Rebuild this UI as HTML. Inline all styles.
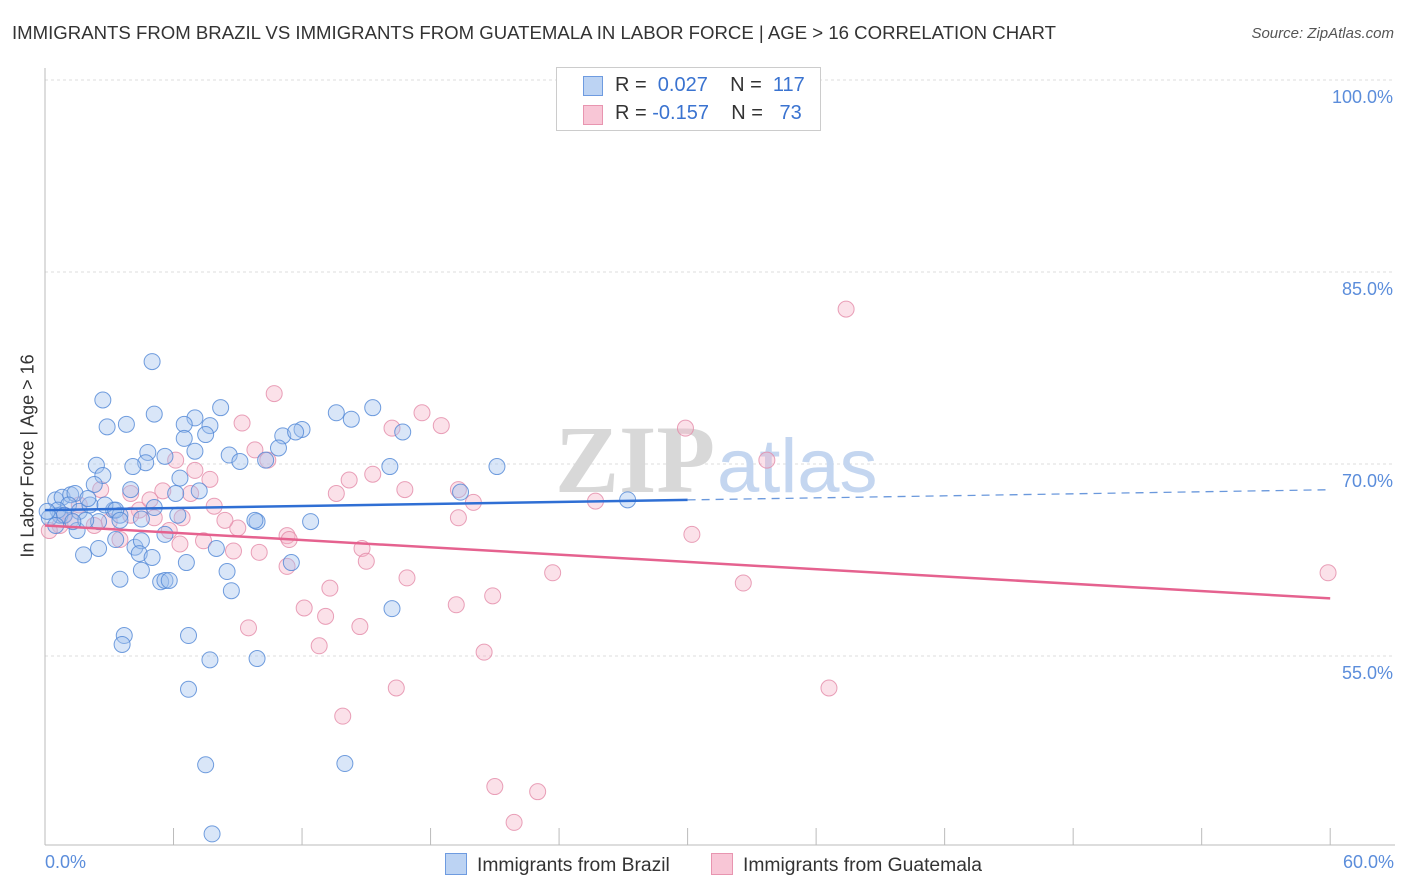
<!DOCTYPE html>
<html><head><meta charset="utf-8"><style>
body{margin:0;background:#fff;font-family:"Liberation Sans",sans-serif;}
#wrap{position:relative;width:1406px;height:892px;overflow:hidden;}
.t{position:absolute;white-space:nowrap;}
</style></head><body>
<div id="wrap">
<div class="t" style="left:12px;top:22px;font-size:18.6px;color:#333;">IMMIGRANTS FROM BRAZIL VS IMMIGRANTS FROM GUATEMALA IN LABOR FORCE | AGE &gt; 16 CORRELATION CHART</div>
<div class="t" style="right:12px;top:25px;font-size:15px;color:#555;font-style:italic;">Source: ZipAtlas.com</div>
<svg id="plot" width="1406" height="892" style="position:absolute;left:0;top:0"></svg>
</div>
<script>
const yTicks=[100,85,70,55];
const yTickLabels=["100.0%","85.0%","70.0%","55.0%"];
const xTicks=[0,6,12,18,24,30,36,42,48,54,60];
const brazilX=[5.0,2.7,5.1,8.2,15.3,13.6,14.3,7.0,6.5,3.8,2.9,7.7,7.5,6.5,12.0,11.1,11.7,16.7,4.8,5.6,7.0,10.9,8.6,9.1,10.3,4.7,2.4,4.1,2.7,6.3,16.1,21.1,2.3,4.0,7.2,6.1,19.4,27.2,5.1,3.2,6.2,9.9,12.4,9.8,4.5,3.5,0.7,2.5,4.2,5.6,4.5,3.3,1.5,2.5,1.8,4.4,5.0,4.5,6.6,8.0,8.5,3.5,5.4,5.6,5.8,8.7,11.5,16.2,3.7,3.6,6.7,7.7,9.9,6.7,7.5,14.0,7.8,0.5,0.8,1.2,1.4,1.1,0.6,0.9,1.6,1.9,0.2,2.1,1.3,2.8,3.3,3.5,0.1,0.5,2.0];
const brazilY=[78.0,75.0,73.9,74.4,74.4,74.0,73.5,73.6,73.1,73.1,72.9,73.0,72.3,72.0,72.7,72.2,72.5,72.5,70.9,70.6,71.0,71.25,70.7,70.2,70.3,70.1,69.9,69.8,69.1,68.9,69.8,69.8,68.4,68.0,67.9,67.7,67.8,67.2,66.6,66.4,66.0,65.5,65.5,65.6,65.7,66.0,66.0,65.5,63.5,64.5,64.0,64.1,64.8,63.4,62.9,63.0,62.7,61.7,62.3,63.4,61.6,61.0,60.8,60.9,60.9,60.1,62.3,58.7,56.6,55.9,56.6,54.7,54.8,52.4,46.5,46.6,41.1,67.2,67.4,67.6,67.7,66.8,66.4,66.0,66.3,65.6,65.8,66.8,65.5,66.8,66.4,65.6,66.3,65.2,67.3];
const guatX=[37.4,10.7,17.6,18.5,9.2,16.2,29.9,33.7,10.4,15.3,7.7,14.2,16.8,13.6,6.8,5.5,4.0,19.3,20.0,25.7,7.9,5.1,6.4,3.0,19.3,9.0,7.4,8.8,11.3,10.0,14.8,15.0,30.2,11.3,23.7,16.9,32.6,13.3,12.1,19.2,20.9,13.1,59.9,9.5,14.7,12.8,20.5,16.4,36.6,13.9,21.0,23.0,21.9,6.3,3.5,2.3,4.4,1.2,0.7,0.2,1.6,4.9,5.8,0.9,2.6,4.0,8.4,7.0,9.8,6.1,11.4];
const guatY=[82.1,75.5,74.0,73.0,73.2,72.8,72.8,70.3,70.3,69.2,68.8,68.75,68.0,67.7,67.7,67.9,67.7,68.0,67.0,67.1,66.7,65.8,65.8,65.5,65.8,65.0,64.0,63.2,64.4,63.1,63.4,62.4,64.5,62.0,61.5,61.1,60.7,60.3,58.75,59.0,59.7,58.1,61.5,57.2,57.3,55.8,55.3,52.5,52.5,50.3,44.8,44.4,42.0,63.75,64.1,65.2,66.4,65.6,65.2,64.8,66.8,67.2,64.8,66.0,68.0,66.0,65.6,69.5,71.1,70.3,64.1];
const trendBrazil=[66.4,0.0265];
const trendGuat=[65.2,-0.095];
const NS="http://www.w3.org/2000/svg";
const svg=document.getElementById('plot');
const X=v=>45+v*21.42, Y=v=>80+(100-v)*12.8;
function mk(t,a){const e=document.createElementNS(NS,t);for(const k in a)e.setAttribute(k,a[k]);svg.appendChild(e);return e;}
yTicks.forEach((v,i)=>{
 const g=mk('line',{x1:45,x2:1395,y1:Y(v),y2:Y(v),stroke:'#ddd','stroke-dasharray':'3,3'});
 
 
 const t=mk('text',{x:1393,y:Y(v)+23,'text-anchor':'end','font-size':18,fill:'#5b8ddb'});
 t.textContent=yTickLabels[i];
 
 
});
const ax=mk('line',{x1:45,x2:45,y1:68,y2:845,stroke:'#bbb'});


const bx=mk('line',{x1:45,x2:1395,y1:845,y2:845,stroke:'#bbb'});


xTicks.forEach(v=>{
 const l=mk('line',{x1:X(v),x2:X(v),y1:828,y2:845,stroke:'#bbb'});
 
 
});
const w1=mk('text',{x:555,y:492,'font-size':96,fill:'#d8d8d8','font-family':'Liberation Serif,serif','font-weight':'bold'});
w1.textContent='ZIP';


const w2=mk('text',{x:717,y:492,'font-size':76,fill:'#c4d6f0'});
w2.textContent='atlas';


function pts(xs,ys,fill,stroke,name){xs.forEach((x,i)=>{
 const c=mk('circle',{cx:X(x),cy:Y(ys[i]),r:8,fill:fill,'fill-opacity':0.4,stroke:stroke,'stroke-width':1,'stroke-opacity':0.8});
 
 
});}
pts(guatX,guatY,'#f4b3c7','#e48aa8','guatemala-point');
pts(brazilX,brazilY,'#9fc0ee','#4f86d6','brazil-point');
const b1=mk('line',{x1:X(0),y1:Y(trendBrazil[0]),x2:X(30),y2:Y(trendBrazil[0]+30*trendBrazil[1]),stroke:'#2f6fd4','stroke-width':2.5});


const b2=mk('line',{x1:X(30),y1:Y(trendBrazil[0]+30*trendBrazil[1]),x2:X(60),y2:Y(trendBrazil[0]+60*trendBrazil[1]),stroke:'#6a98dc','stroke-width':1.3,'stroke-dasharray':'8,6'});


const p1=mk('line',{x1:X(0),y1:Y(trendGuat[0]),x2:X(60),y2:Y(trendGuat[0]+60*trendGuat[1]),stroke:'#e5628f','stroke-width':2.5});


</script>
<div class="t" style="left:556px;top:67px;width:263px;height:62px;border:1px solid #ccc;background:#fff;font-size:20px;">
 <div style="position:absolute;left:26px;top:8px;width:18px;height:18px;background:#bcd3f3;border:1px solid #6e9be0;"></div>
 <div style="position:absolute;left:58px;top:6px;color:#333">R = <span style="color:#3a73d0">&nbsp;0.027</span>&nbsp;&nbsp;&nbsp; N = <span style="color:#3a73d0">&nbsp;117</span></div>
 <div style="position:absolute;left:26px;top:37px;width:18px;height:18px;background:#f8c6d6;border:1px solid #e895b0;"></div>
 <div style="position:absolute;left:58px;top:34px;color:#333">R = <span style="color:#3a73d0">-0.157</span>&nbsp;&nbsp;&nbsp; N = <span style="color:#3a73d0">&nbsp;&nbsp;73</span></div>
</div>
<div class="t" style="left:45px;top:852px;font-size:18px;color:#5b8ddb">0.0%</div>
<div class="t" style="right:12px;top:852px;font-size:18px;color:#5b8ddb">60.0%</div>
<div class="t" style="left:445px;top:853px;font-size:19.3px;color:#333"><span style="display:inline-block;width:20px;height:20px;background:#bcd3f3;border:1px solid #6e9be0;vertical-align:-4px;margin-right:10px"></span>Immigrants from Brazil</div>
<div class="t" style="left:711px;top:853px;font-size:19.3px;color:#333"><span style="display:inline-block;width:20px;height:20px;background:#f8c6d6;border:1px solid #e895b0;vertical-align:-4px;margin-right:10px"></span>Immigrants from Guatemala</div>
<div class="t" style="left:28px;top:456px;font-size:18px;color:#333;transform:translate(-50%,-50%) rotate(-90deg)">In Labor Force | Age &gt; 16</div>
</body></html>
